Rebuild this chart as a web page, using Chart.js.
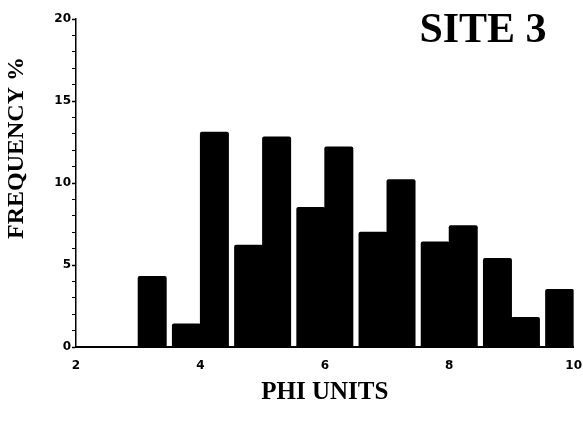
<!DOCTYPE html>
<html>
<head>
<meta charset="utf-8">
<script src="https://cdn.jsdelivr.net/npm/chart.js@4.4.0/dist/chart.umd.min.js"></script>
<style>
  html, body { margin: 0; padding: 0; background: #fff; }
  #wrap { width: 583px; height: 421px; }
</style>
</head>
<body>
<div id="wrap"><canvas id="charts"></canvas></div>
<script>
// phi class centres, each split in a coarse half (x - 0.25) and a fine half (x + 0.25)
const phiBins = [3, 4, 5, 6, 7, 8, 9, 10]
const coarseHalf = [null, 1.4, 6.2, 8.5, 7.0, 6.4, 5.4, 3.5]
const fineHalf = [4.3, 13.1, 12.8, 12.2, 10.2, 7.4, 1.8, null]
const xTicks = [2, 4, 6, 8, 10]
const yLabelled = [0, 5, 10, 15, 20]

function main()
{
    const toPoints = (vals) => phiBins.map((x, i) => ({ x: x, y: vals[i] }))

    // titles placed where the original figure has them
    const extraText = {
        id: 'extraText',
        afterDraw(chart) {
            const ctx = chart.ctx
            ctx.save()
            ctx.fillStyle = '#000'
            ctx.textAlign = 'center'
            ctx.textBaseline = 'middle'
            ctx.font = 'bold 42px "Liberation Serif"'
            ctx.fillText('SITE 3', 483, 31)

            ctx.translate(17, 148)
            ctx.rotate(-Math.PI / 2)
            ctx.font = 'bold 24px "Liberation Serif"'
            ctx.fillText('FREQUENCY %', 0, 0)
            ctx.restore()
        }
    }

    var ctx = document.getElementById('charts').getContext('2d')

    const barStyle = {
        backgroundColor: '#000',
        borderWidth: 0,
        borderRadius: { topLeft: 2, topRight: 2 },
        inflateAmount: 0.5,
        barPercentage: 1.0,
        categoryPercentage: 0.9
    }

    var chart = new Chart(ctx, {
        type: 'bar',
        data: {
            datasets: [
                Object.assign({ label: 'coarse half', data: toPoints(coarseHalf) }, barStyle),
                Object.assign({ label: 'fine half', data: toPoints(fineHalf) }, barStyle)
            ]
        },
        options: {
            responsive: true,
            maintainAspectRatio: false,
            animation: false,
            layout: { padding: { top: 19, right: 3, left: 0, bottom: 0 } },
            plugins: {
                legend: { display: false },
                tooltip: { enabled: false }
            },
            scales: {
                x: {
                    type: 'linear',
                    min: 2,
                    max: 10,
                    offset: false,
                    afterBuildTicks: (scale) => { scale.ticks = xTicks.map(v => ({ value: v })) },
                    afterFit: (scale) => { scale.height = 74 },
                    grid: {
                        drawOnChartArea: false,
                        offset: false,
                        tickLength: 11,
                        tickColor: 'rgba(0,0,0,0)'
                    },
                    border: { color: '#000', width: 2 },
                    ticks: {
                        color: '#000',
                        padding: 1,
                        font: { family: 'DejaVu Sans', weight: 'bold', size: 12 }
                    },
                    title: {
                        display: true,
                        text: 'PHI UNITS',
                        color: '#000',
                        padding: { top: 0, bottom: 13 },
                        font: { family: 'Liberation Serif', weight: 'bold', size: 25 }
                    }
                },
                y: {
                    min: 0,
                    max: 20,
                    afterFit: (scale) => { scale.width = 76 },
                    grid: {
                        drawOnChartArea: false,
                        tickLength: 4,
                        tickColor: '#000',
                        tickWidth: (c) => yLabelled.includes(c.tick.value) ? 1.5 : 1
                    },
                    border: { color: '#000', width: 1.5 },
                    ticks: {
                        stepSize: 1,
                        autoSkip: false,
                        color: '#000',
                        padding: 1,
                        font: { family: 'DejaVu Sans', weight: 'bold', size: 12 },
                        callback: (v) => yLabelled.includes(v) ? v : ''
                    }
                }
            }
        },
        plugins: [extraText]
    })
}

main()
</script>
</body>
</html>
